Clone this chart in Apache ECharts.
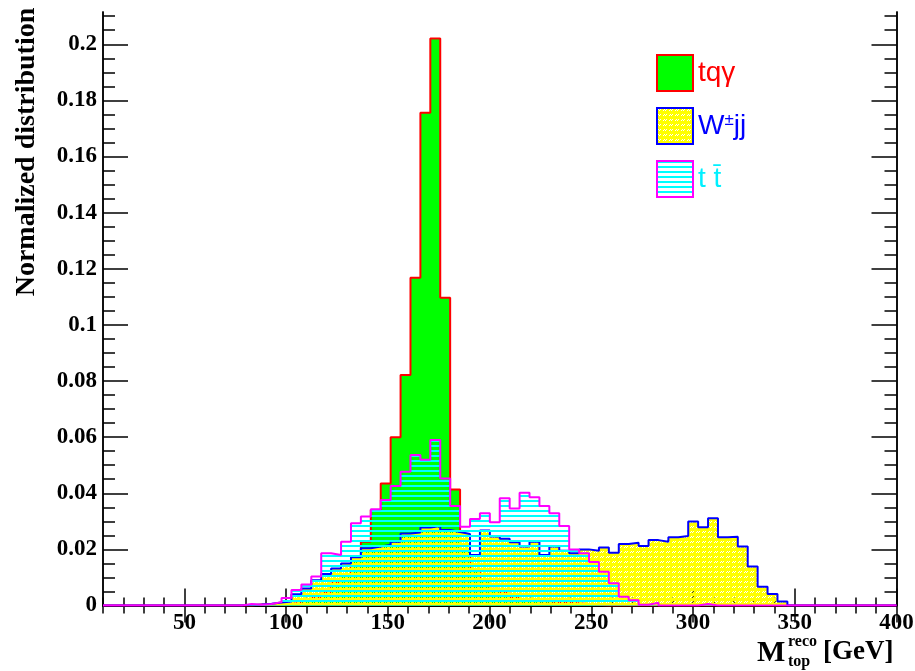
<!DOCTYPE html>
<html>
<head>
<meta charset="utf-8">
<script src="https://cdn.jsdelivr.net/npm/echarts@6/dist/echarts.min.js"></script>
<style>
  html, body { margin: 0; padding: 0; background: #fff; }
  #chart { width: 915px; height: 671px; }
</style>
</head>
<body>
<div id="chart"></div>
<script>
// binning: 80 bins from 10 to 400 GeV
const xMin = 10
const xMax = 400
const binWidth = 4.875

// normalized distributions, one value per bin
const tqgValues = [
  0, 0, 0, 0, 0, 0, 0, 0, 0, 0,
  0, 0, 0, 0, 0, 0.0004, 0.0003, 0.0004, 0.0006, 0.001,
  0.0018, 0.003, 0.0045, 0.008, 0.011, 0.016, 0.0227, 0.034, 0.0435, 0.060,
  0.0821, 0.1168, 0.1756, 0.2021, 0.1097, 0.0413, 0.020, 0.013, 0.009, 0.006,
  0.0045, 0.003, 0.002, 0.0015, 0.0015, 0.0012, 0.001, 0.0008, 0.0005, 0.0003,
  0, 0, 0, 0, 0, 0, 0, 0, 0, 0,
  0, 0, 0, 0, 0, 0, 0, 0, 0, 0,
  0, 0, 0, 0, 0, 0, 0, 0, 0, 0
]
const wjjValues = [
  0, 0, 0, 0, 0, 0, 0, 0, 0, 0,
  0, 0, 0, 0, 0.0003, 0.0004, 0.0006, 0.0011, 0.0014, 0.004,
  0.0061, 0.009, 0.0112, 0.0132, 0.015, 0.0172, 0.0204, 0.021, 0.0216, 0.0227,
  0.0257, 0.026, 0.0278, 0.0283, 0.0269, 0.0262, 0.0255, 0.018, 0.0267, 0.0246,
  0.0238, 0.0225, 0.021, 0.0227, 0.018, 0.021, 0.0195, 0.0186, 0.020, 0.0195,
  0.0207, 0.0188, 0.0219, 0.0224, 0.0212, 0.0233, 0.0227, 0.0243, 0.0248, 0.0299,
  0.0279, 0.0311, 0.0243, 0.0245, 0.021, 0.0139, 0.0067, 0.0041, 0.0014, 0,
  0, 0, 0, 0, 0, 0, 0, 0, 0, 0
]
const ttbarValues = [
  0, 0, 0, 0, 0, 0, 0, 0, 0, 0,
  0, 0, 0, 0, 0.0005, 0.0003, 0.0005, 0.0012, 0.0027, 0.0055,
  0.0075, 0.0103, 0.0186, 0.018, 0.0227, 0.0293, 0.0317, 0.0343, 0.0376, 0.0426,
  0.0477, 0.0536, 0.0519, 0.059, 0.0453, 0.0355, 0.0281, 0.0308, 0.0329, 0.0297,
  0.0382, 0.0346, 0.0402, 0.0386, 0.0355, 0.0329, 0.0283, 0.020, 0.0186, 0.0155,
  0.012, 0.0079, 0.0031, 0.0019, 0.0003, 0.001, 0, 0, 0, 0,
  0.0005, 0, 0, 0, 0, 0, 0, 0, 0, 0,
  0, 0, 0, 0, 0, 0, 0, 0, 0, 0
]

// tick positions
const xMajorTicks = [50, 100, 150, 200, 250, 300, 350, 400]
const xMinorTicks = [10, 20, 30, 40, 60, 70, 80, 90, 110, 120, 130, 140, 160, 170, 180, 190,
  210, 220, 230, 240, 260, 270, 280, 290, 310, 320, 330, 340, 360, 370, 380, 390]
const yMajorTicks = [0, 0.02, 0.04, 0.06, 0.08, 0.1, 0.12, 0.14, 0.16, 0.18, 0.2]
const yMinorTicks = [0.005, 0.01, 0.015, 0.025, 0.03, 0.035, 0.045, 0.05, 0.055, 0.065, 0.07, 0.075,
  0.085, 0.09, 0.095, 0.105, 0.11, 0.115, 0.125, 0.13, 0.135, 0.145, 0.15, 0.155,
  0.165, 0.17, 0.175, 0.185, 0.19, 0.195, 0.205, 0.21]
const yMax = 0.2115

const serif = 'Liberation Serif'

function hatchPattern() {
  const c = document.createElement('canvas')
  c.width = 8
  c.height = 5
  const g = c.getContext('2d')
  g.fillStyle = '#00ffff'
  g.fillRect(0, 0, 8, 2)
  return c
}

function dotPattern() {
  const c = document.createElement('canvas')
  c.width = 6
  c.height = 5
  const g = c.getContext('2d')
  g.fillStyle = '#ffff00'
  g.fillRect(0, 0, 6, 5)
  g.clearRect(0, 2, 1, 1)
  g.clearRect(1, 1, 1, 1)
  g.clearRect(2, 2, 1, 1)
  g.clearRect(3, 1, 1, 1)
  return c
}

const hatchFill = { image: hatchPattern(), repeat: 'repeat' }
const dotFill = { image: dotPattern(), repeat: 'repeat' }

function binEdges() {
  const edges = []
  for (let k = 0; k <= tqgValues.length; k++) edges.push(xMin + k * binWidth)
  return edges
}

function histSeries(name, vals, line, fill, z) {
  const edges = binEdges()
  return {
    name: name,
    type: 'line',
    step: 'end',
    symbol: 'none',
    silent: true,
    z: z,
    xAxisIndex: 0,
    yAxisIndex: 0,
    data: edges.map((e, i) => [e, vals[Math.min(i, vals.length - 1)]]),
    lineStyle: { color: line, width: 2 },
    itemStyle: { color: line },
    areaStyle: { color: fill, opacity: 1 }
  }
}

function xAxisDef(pos, ticks, len, labels) {
  return {
    type: 'value', position: pos, min: xMin, max: xMax,
    axisLine: { show: true, lineStyle: { color: '#000', width: 1.5 } },
    splitLine: { show: false },
    axisTick: { show: true, inside: true, length: len, customValues: ticks, lineStyle: { color: '#000', width: 1.5 } },
    axisLabel: labels ? {
      show: true, customValues: xMajorTicks, margin: 6,
      color: '#000', fontFamily: serif, fontWeight: 'bold', fontSize: 23
    } : { show: false }
  }
}

function yAxisDef(pos, ticks, len, labels) {
  return {
    type: 'value', position: pos, min: 0, max: yMax,
    axisLine: { show: true, lineStyle: { color: '#000', width: 1.5 } },
    splitLine: { show: false },
    axisTick: { show: true, inside: true, length: len, customValues: ticks, lineStyle: { color: '#000', width: 1.5 } },
    axisLabel: labels ? {
      show: true, customValues: yMajorTicks, margin: 6,
      color: '#000', fontFamily: serif, fontWeight: 'bold', fontSize: 23,
      formatter: v => String(+v.toFixed(3))
    } : { show: false }
  }
}

const chart = echarts.init(document.getElementById('chart'), null, { renderer: 'canvas' })
chart.setOption({
  animation: false,
  backgroundColor: '#fff',
  grid: { left: 103, right: 18.5, top: 12, bottom: 65.5, containLabel: false, outerBoundsMode: 'none' },
  xAxis: [
    xAxisDef('bottom', xMajorTicks, 17, true),
    xAxisDef('bottom', xMinorTicks, 8, false),
    xAxisDef('top', xMajorTicks, 17, false),
    xAxisDef('top', xMinorTicks, 8, false)
  ],
  yAxis: [
    yAxisDef('left', yMajorTicks, 25, true),
    yAxisDef('left', yMinorTicks, 12, false),
    yAxisDef('right', yMajorTicks, 25, false),
    yAxisDef('right', yMinorTicks, 12, false)
  ],
  legend: {
    orient: 'vertical',
    left: 656,
    top: 54,
    padding: 0,
    itemWidth: 36,
    itemHeight: 36,
    itemGap: 15,
    selectedMode: false,
    data: [
      { name: 'tqγ', icon: 'rect', itemStyle: { color: '#00ff00', borderColor: '#ff0000', borderWidth: 2 } },
      { name: 'W±jj', icon: 'rect', itemStyle: { color: dotFill, borderColor: '#0000ff', borderWidth: 2 } },
      { name: 't t̄', icon: 'rect', itemStyle: { color: hatchFill, borderColor: '#ff00ff', borderWidth: 2 } }
    ],
    formatter: function(name) {
      if (name === 'tqγ') return '{r|tqγ}'
      if (name === 'W±jj') return '{w|W}{ws|±}{w|jj}'
      return '{c|t t̄}'
    },
    textStyle: {
      fontFamily: 'Liberation Sans',
      fontSize: 28,
      rich: {
        r: { color: '#ff0000', fontFamily: 'Liberation Sans', fontSize: 28 },
        w: { color: '#0000ff', fontFamily: 'Liberation Sans', fontSize: 28 },
        ws: { color: '#0000ff', fontFamily: 'Liberation Sans', fontSize: 17, verticalAlign: 'top' },
        c: { color: '#00f0ff', fontFamily: 'Liberation Sans', fontSize: 28 }
      }
    }
  },
  graphic: [
    {
      type: 'text', x: 27, y: 152, rotation: Math.PI / 2,
      style: { text: 'Normalized distribution', font: 'bold 28px "Liberation Serif"', fill: '#000', align: 'center', verticalAlign: 'middle' }
    },
    { type: 'text', x: 757, y: 653, style: { text: 'M', font: 'bold 30px "Liberation Serif"', fill: '#000', align: 'left', verticalAlign: 'middle' } },
    { type: 'text', x: 788, y: 642, style: { text: 'reco', font: 'bold 16px "Liberation Serif"', fill: '#000', align: 'left', verticalAlign: 'middle' } },
    { type: 'text', x: 788, y: 662, style: { text: 'top', font: 'bold 16px "Liberation Serif"', fill: '#000', align: 'left', verticalAlign: 'middle' } },
    { type: 'text', x: 823, y: 652, style: { text: '[GeV]', font: 'bold 27px "Liberation Serif"', fill: '#000', align: 'left', verticalAlign: 'middle' } }
  ],
  series: [
    histSeries('tqγ', tqgValues, '#ff0000', '#00ff00', 2),
    histSeries('W±jj', wjjValues, '#0000ff', dotFill, 3),
    histSeries('t t̄', ttbarValues, '#ff00ff', hatchFill, 4)
  ]
})
</script>
</body>
</html>
